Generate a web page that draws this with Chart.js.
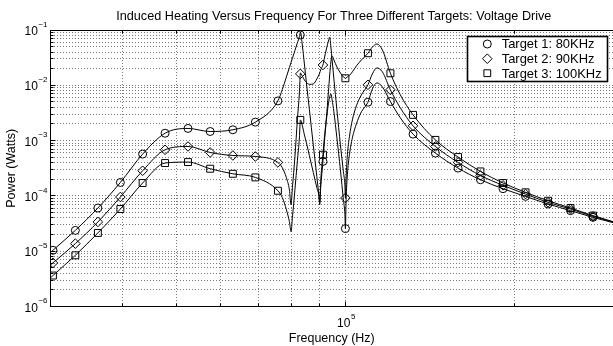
<!DOCTYPE html>
<html><head><meta charset="utf-8">
<script src="https://cdn.jsdelivr.net/npm/chart.js@4"></script>
<style>html,body{margin:0;padding:0;background:#fff;overflow:hidden}#wrap{width:613px;height:346px}</style>
</head><body><div id="wrap"><canvas id="c" width="613" height="346"></canvas></div>
<script>
const titleText = 'Induced Heating Versus Frequency For Three Different Targets: Voltage Drive';
const xAxisTitle = 'Frequency (Hz)';
const yAxisTitle = 'Power (Watts)';
const seriesNames = ['Target 1: 80KHz', 'Target 2: 90KHz', 'Target 3: 100KHz'];
const seriesMarkers = ['circle', 'rectRot', 'rect'];

const xLimits = [29800, 300000];
const yLimits = [1e-6, 1e-1];
const xGridTicks = [40000, 50000, 60000, 70000, 80000, 90000, 100000, 200000];
const xLabelTicks = [100000];
const yLabelTicks = [1e-6, 1e-5, 1e-4, 1e-3, 1e-2, 1e-1];
const minorMultipliers = [2, 3, 4, 5, 6, 7, 8, 9];

// marker positions (Hz) and powers (W)
const freqMarker = [30100, 33000, 36200, 39700, 43500, 47700, 52400, 57400, 63000, 69100, 75800, 83100, 91200, 100000, 109700, 120300, 132000, 144700, 158800, 174100, 191000, 209500, 229800, 252000, 276400];
const markT1 = [1.04e-5, 2.38e-5, 6.04e-5, 1.75e-4, 5.70e-4, 1.36e-3, 1.66e-3, 1.46e-3, 1.57e-3, 2.16e-3, 5.22e-3, 8.13e-2, 4.20e-4, 2.56e-5, 4.95e-3, 5.08e-3, 1.31e-3, 5.94e-4, 3.18e-4, 1.96e-4, 1.35e-4, 9.8e-5, 7.14e-5, 5.41e-5, 4.09e-5];
const markT2 = [6.15e-6, 1.37e-5, 3.38e-5, 9.55e-5, 2.85e-4, 6.82e-4, 7.83e-4, 6.10e-4, 5.38e-4, 5.16e-4, 4.03e-4, 1.61e-2, 2.33e-2, 9.16e-5, 1.02e-2, 8.26e-3, 1.85e-3, 7.83e-4, 4.03e-4, 2.34e-4, 1.55e-4, 1.08e-4, 7.64e-5, 5.79e-5, 4.27e-5];
const markT3 = [3.63e-6, 8.43e-6, 2.14e-5, 5.79e-5, 1.71e-4, 3.93e-4, 4.09e-4, 3.10e-4, 2.51e-4, 2.16e-4, 1.24e-4, 2.37e-3, 5.55e-4, 1.34e-2, 3.80e-2, 1.65e-2, 2.92e-3, 1.03e-3, 5.04e-4, 2.77e-4, 1.71e-4, 1.16e-4, 8.18e-5, 6.04e-5, 4.40e-5];

// continuous curves (Hz) and powers (W)
const freqLine = [29800, 30100, 33000, 36200, 39700, 43500, 47700, 52400, 57400, 63000, 69100,
  75800, 77200, 78490, 79460, 80000, 80450, 81280, 82110, 82790, 83140,
  83820, 84510, 85210, 86270, 87680, 88940, 89680, 90000, 90350, 91190,
  91740, 92500, 93270, 93760, 94220, 94690, 95390, 96570, 97970, 99180,
  99800, 100000, 100290, 100820, 101660, 102910, 104620, 106790, 109700, 111720,
  113800, 116400, 120300, 125300, 132000,
  144700, 158800, 174100, 191000, 209500, 229800, 252000, 276400, 300000];
const lineT1 = [9.47e-6, 1.04e-5, 2.38e-5, 6.04e-5, 1.75e-4, 5.70e-4, 1.36e-3, 1.66e-3, 1.46e-3, 1.57e-3, 2.16e-3,
  5.22e-3, 8.43e-3, 1.42e-2, 2.09e-2, 2.60e-2, 3.07e-2, 4.25e-2, 5.87e-2, 7.57e-2, 9.20e-2,
  5.14e-2, 2.43e-2, 1.105e-2, 3.60e-3, 8.06e-4, 2.22e-4, 1.05e-4, 7.54e-5, 1.41e-4, 4.20e-4,
  9.51e-4, 2.37e-3, 4.62e-3, 6.17e-3, 6.99e-3, 5.45e-3, 3.31e-3, 1.12e-3, 2.97e-4, 8.54e-5,
  4.58e-5, 2.56e-5, 8.54e-5, 2.41e-4, 5.54e-4, 1.12e-3, 2.01e-3, 3.31e-3, 4.95e-3, 8.61e-3,
  1.105e-2, 9.36e-3, 5.08e-3, 2.58e-3, 1.31e-3,
  5.94e-4, 3.18e-4, 1.96e-4, 1.35e-4, 9.8e-5, 7.14e-5, 5.41e-5, 4.09e-5, 3.28e-5];
const lineT2 = [5.64e-6, 6.15e-6, 1.37e-5, 3.38e-5, 9.55e-5, 2.85e-4, 6.82e-4, 7.83e-4, 6.10e-4, 5.38e-4, 5.16e-4,
  4.03e-4, 3.23e-4, 2.13e-4, 1.29e-4, 6.94e-5, 1.41e-4, 5.10e-4, 2.37e-3, 7.29e-3, 1.67e-2,
  1.45e-2, 1.25e-2, 1.13e-2, 1.04e-2, 1.06e-2, 1.30e-2, 1.54e-2, 1.67e-2, 1.90e-2, 2.33e-2,
  3.12e-2, 4.54e-2, 6.33e-2, 7.47e-2, 4.93e-2, 2.87e-2, 1.30e-2, 3.60e-3, 8.40e-4, 2.73e-4,
  1.53e-4, 9.16e-5, 2.13e-4, 5.54e-4, 1.17e-3, 2.37e-3, 4.25e-3, 6.71e-3, 1.02e-2, 1.61e-2,
  2.06e-2, 1.75e-2, 8.26e-3, 3.91e-3, 1.85e-3,
  7.83e-4, 4.03e-4, 2.34e-4, 1.55e-4, 1.08e-4, 7.64e-5, 5.79e-5, 4.27e-5, 3.38e-5];
const lineT3 = [3.31e-6, 3.63e-6, 8.43e-6, 2.14e-5, 5.79e-5, 1.71e-4, 3.93e-4, 4.09e-4, 3.10e-4, 2.51e-4, 2.16e-4,
  1.24e-4, 9.28e-5, 5.63e-5, 3.42e-5, 2.26e-5, 4.04e-5, 1.29e-4, 4.32e-4, 1.12e-3, 2.37e-3,
  1.85e-3, 1.27e-3, 9.12e-4, 5.32e-4, 2.62e-4, 1.41e-4, 1.01e-4, 6.94e-5, 1.80e-4, 5.55e-4,
  1.12e-3, 2.58e-3, 7.60e-3, 1.54e-2, 2.65e-2, 3.39e-2, 2.87e-2, 2.15e-2, 1.67e-2, 1.42e-2,
  1.36e-2, 1.34e-2, 1.36e-2, 1.42e-2, 1.51e-2, 1.75e-2, 2.24e-2, 2.87e-2, 3.80e-2, 4.93e-2,
  5.59e-2, 4.36e-2, 1.65e-2, 6.71e-3, 2.92e-3,
  1.03e-3, 5.04e-4, 2.77e-4, 1.71e-4, 1.16e-4, 8.18e-5, 6.04e-5, 4.40e-5, 3.42e-5];

const FONT = '"Liberation Sans", Arial, Helvetica, sans-serif';
const pairs = (xs, ys) => xs.map((v, i) => ({x: v, y: ys[i]}));
const yGridTicks = [];
yLabelTicks.forEach(d => { yGridTicks.push(d); if (d < yLimits[1]) minorMultipliers.forEach(m => yGridTicks.push(d * m)); });

const lineSets = [lineT1, lineT2, lineT3].map((arr, k) => ({
  label: 'curve' + (k + 1), data: pairs(freqLine, arr), showLine: true,
  borderColor: '#000', borderWidth: 1, pointRadius: 0, fill: false,
  cubicInterpolationMode: 'monotone', order: 2
}));
const markerSizes = [4, 4.8, 4.9];
const markSets = [markT1, markT2, markT3].map((arr, k) => ({
  label: seriesNames[k], data: pairs(freqMarker, arr), showLine: false,
  pointStyle: seriesMarkers[k], pointRadius: markerSizes[k], pointBorderWidth: 1,
  pointBorderColor: '#000', pointBackgroundColor: 'rgba(0,0,0,0)', order: 1
}));

function fitFont(ctx, text, w) {
  ctx.font = '12px ' + FONT;
  return 12 * w / ctx.measureText(text).width;
}

const decor = {
  id: 'decor',
  afterDraw(chart) {
    const {ctx, chartArea: a, scales: {x, y}} = chart;
    ctx.save();
    ctx.fillStyle = '#000'; ctx.strokeStyle = '#000'; ctx.lineWidth = 1;
    const topY = Math.round(a.top) + 0.5;
    ctx.beginPath(); ctx.moveTo(a.left, topY); ctx.lineTo(a.right, topY); ctx.stroke();
    const leftX = Math.round(a.left - 0.5) + 0.5;
    const botY = Math.round(a.bottom - 0.5) + 0.5;
    ctx.beginPath();
    yGridTicks.forEach(v => {
      const py = Math.round(y.getPixelForValue(v) - 0.5) + 0.5;
      const len = yLabelTicks.includes(v) ? 5 : 3;
      ctx.moveTo(leftX, py); ctx.lineTo(leftX + len, py);
    });
    xGridTicks.forEach(v => {
      const px = Math.round(x.getPixelForValue(v) - 0.5) + 0.5;
      const len = xLabelTicks.includes(v) ? 5 : 3;
      ctx.moveTo(px, botY); ctx.lineTo(px, botY - len);
      ctx.moveTo(px, topY); ctx.lineTo(px, topY + len);
    });
    ctx.stroke();

    yLabelTicks.forEach(v => {
      const py = y.getPixelForValue(v);
      const e = '\u2212' + Math.round(-Math.log10(v));
      ctx.textAlign = 'right'; ctx.textBaseline = 'alphabetic';
      ctx.font = '8px ' + FONT;
      const we = ctx.measureText(e).width;
      ctx.fillText(e, a.left - 3, py - 3.3);
      ctx.font = '12px ' + FONT;
      ctx.fillText('10', a.left - 3.5 - we, py + 5);
    });
    xLabelTicks.forEach(v => {
      const px = x.getPixelForValue(v);
      const e = String(Math.round(Math.log10(v)));
      ctx.textAlign = 'right'; ctx.font = '12px ' + FONT;
      ctx.fillText('10', px + 5, 326.7);
      ctx.textAlign = 'left'; ctx.font = '8px ' + FONT;
      ctx.fillText(e, px + 5.5, 318.6);
    });
    let fs = fitFont(ctx, titleText, 435.5);
    ctx.font = fs.toFixed(2) + 'px ' + FONT; ctx.textAlign = 'center';
    ctx.fillText(titleText, 333.8, 20);
    fs = fitFont(ctx, xAxisTitle, 86);
    ctx.font = fs.toFixed(2) + 'px ' + FONT;
    ctx.fillText(xAxisTitle, (a.left + a.right) / 2, 341.5);
    fs = fitFont(ctx, yAxisTitle, 79);
    ctx.save();
    ctx.translate(14.5, (a.top + a.bottom) / 2);
    ctx.rotate(-Math.PI / 2);
    ctx.font = fs.toFixed(2) + 'px ' + FONT; ctx.textAlign = 'center';
    ctx.fillText(yAxisTitle, 0, 0);
    ctx.restore();

    ctx.fillStyle = '#fff';
    ctx.fillRect(467, 36, 140, 45);
    ctx.strokeStyle = '#000'; ctx.lineWidth = 1.6;
    ctx.strokeRect(467.5, 36.5, 140, 45);
    ctx.lineWidth = 1; ctx.fillStyle = '#000';
    const rows = [44, 58.7, 73.2];
    const lfs = fitFont(ctx, seriesNames[2], 100);
    seriesNames.forEach((name, k) => {
      const cy = rows[k], cx = 487.3;
      ctx.beginPath();
      if (seriesMarkers[k] === 'circle') {
        ctx.arc(cx, cy, 4, 0, Math.PI * 2);
      } else if (seriesMarkers[k] === 'rectRot') {
        const r = 4.8;
        ctx.moveTo(cx - r, cy); ctx.lineTo(cx, cy - r); ctx.lineTo(cx + r, cy); ctx.lineTo(cx, cy + r); ctx.closePath();
      } else {
        const s = 3.4;
        ctx.rect(cx - s, cy - s, 2 * s, 2 * s);
      }
      ctx.stroke();
      ctx.font = lfs.toFixed(2) + 'px ' + FONT; ctx.textAlign = 'left';
      ctx.fillText(name, 501.7, cy + 4.4);
    });
    ctx.restore();
  }
};

const gridCommon = {color: '#7a7a7a', lineWidth: 1, drawTicks: false};
new Chart(document.getElementById('c'), {
  type: 'scatter',
  data: {datasets: [...lineSets, ...markSets]},
  options: {
    responsive: false, animation: false, devicePixelRatio: 1,
    layout: {autoPadding: false, padding: {left: 50.5, right: 0, top: 30, bottom: 39.5}},
    plugins: {legend: {display: false}, tooltip: {enabled: false}, title: {display: false}},
    scales: {
      x: {
        type: 'logarithmic', min: xLimits[0], max: xLimits[1],
        ticks: {display: false}, grid: gridCommon,
        border: {display: true, color: '#000', width: 1, dash: [1, 2]},
        afterBuildTicks: s => { s.ticks = xGridTicks.map(v => ({value: v})); }
      },
      y: {
        type: 'logarithmic', min: yLimits[0], max: yLimits[1],
        ticks: {display: false}, grid: gridCommon,
        border: {display: true, color: '#000', width: 1, dash: [1, 2]},
        afterBuildTicks: s => { s.ticks = yGridTicks.map(v => ({value: v})); }
      }
    }
  },
  plugins: [decor]
});
</script>
</body></html>
